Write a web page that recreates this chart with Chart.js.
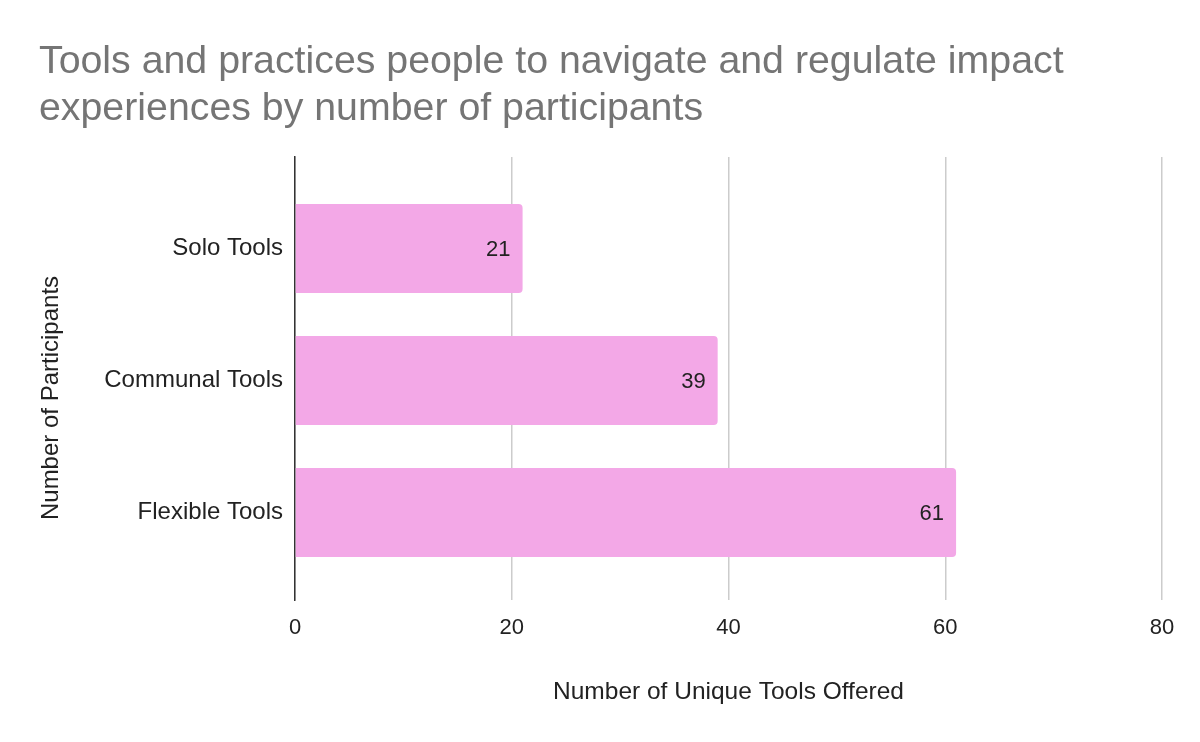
<!DOCTYPE html>
<html>
<head>
<meta charset="utf-8">
<script src="https://cdn.jsdelivr.net/npm/chart.js@4/dist/chart.umd.min.js"></script>
<style>
  html, body { margin: 0; padding: 0; background: #fff; }
  #wrap { width: 1200px; height: 742px; }
</style>
</head>
<body>
<div id="wrap"><canvas id="chart-tools"></canvas></div>
<script>
const categories = ['Solo Tools', 'Communal Tools', 'Flexible Tools'];
const toolCounts = [21, 39, 61];
const xTicks = [0, 20, 40, 60, 80];

const FONT = "'Liberation Sans', Arial, sans-serif";

// value labels at the inner end of each bar + y axis title
const barLabels = {
  id: 'barLabels',
  afterDatasetsDraw(chart) {
    const ctx = chart.ctx;
    const meta = chart.getDatasetMeta(0);
    ctx.save();
    ctx.font = '22px ' + FONT;
    ctx.fillStyle = '#222';
    ctx.textAlign = 'right';
    ctx.textBaseline = 'middle';
    meta.data.forEach((bar, i) => {
      ctx.fillText(String(toolCounts[i]), bar.x - 12, bar.y + 1);
    });
    // y title, google puts it a bit lower than the middle
    ctx.translate(51, 398);
    ctx.rotate(-Math.PI / 2);
    ctx.textAlign = 'center';
    ctx.font = '24px ' + FONT;
    ctx.fillText('Number of Participants', 0, 0);
    ctx.restore();
  }
};

const dataTools = {
  datasets: [{
    label: 'Tools',
    backgroundColor: '#f3a8e7',
    borderRadius: 4,
    borderSkipped: 'start',
    barPercentage: 0.674,
    categoryPercentage: 1,
    data: toolCounts.map((v, i) => ({ x: v, y: i }))
  }]
};

const configTools = {
  type: 'bar',
  data: dataTools,
  plugins: [barLabels],
  options: {
    indexAxis: 'y',
    responsive: true,
    maintainAspectRatio: false,
    animation: false,
    layout: {
      padding: { left: 39, right: 38, top: 0, bottom: 35 }
    },
    plugins: {
      legend: { display: false },
      tooltip: { enabled: false },
      title: {
        display: true,
        text: [
          'Tools and practices people to navigate and regulate impact',
          'experiences by number of participants'
        ],
        align: 'start',
        color: '#757575',
        font: { family: FONT, size: 39.3, weight: 'normal', lineHeight: 1.21 },
        padding: { top: 38, bottom: 24 }
      }
    },
    scales: {
      x: {
        type: 'linear',
        min: 0,
        max: 80,
        afterBuildTicks: (scale) => {
          scale.ticks = xTicks.map(v => ({ value: v }));
        },
        afterFit: (scale) => { scale.height = 107; },
        ticks: {
          color: '#222',
          padding: 15,
          font: { family: FONT, size: 22 }
        },
        grid: {
          color: '#cccccc',
          lineWidth: 1.5,
          drawTicks: false
        },
        border: { display: false },
        title: {
          display: true,
          text: 'Number of Unique Tools Offered',
          color: '#222',
          padding: { top: 0, bottom: 0 },
          font: { family: FONT, size: 24.5 }
        }
      },
      y: {
        type: 'linear',
        reverse: true,
        offset: false,
        grace: 0,
        min: -0.693,
        max: 2.663,
        afterBuildTicks: (scale) => {
          scale.ticks = categories.map((c, i) => ({ value: i }));
        },
        afterFit: (scale) => { scale.width = 256; },
        ticks: {
          color: '#222',
          padding: 12,
          font: { family: FONT, size: 24 },
          callback: (v) => categories[v]
        },
        grid: { display: false, drawTicks: false, offset: false },
        border: { display: true, color: '#333', width: 1.5 },
        title: { display: false }
      }
    }
  }
};

const chartTools = new Chart(
  document.getElementById('chart-tools'),
  configTools
);
</script>
</body>
</html>
